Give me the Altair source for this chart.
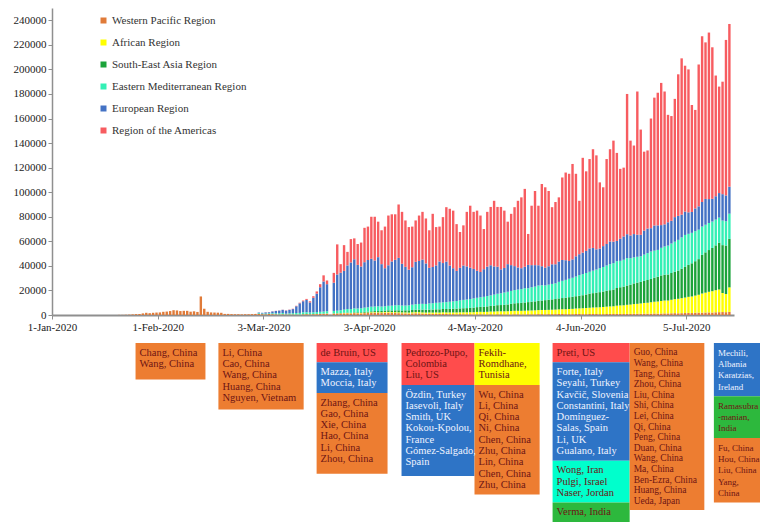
import altair as alt
import pandas as pd

# ---------------- data (daily new cases, thousands) ----------------
REGIONS = ["Western Pacific Region", "African Region", "South-East Asia Region",
           "Eastern Mediterranean Region", "European Region", "Region of the Americas"]
BAR_COLORS = ["#E07B39", "#FFFF00", "#1BA33A", "#33F0B5", "#4472C4", "#F75C60"]
BOX_COLORS = ["#ED7D31", "#FFFF00", "#2DB83D", "#00FFCC", "#2E74C6", "#FF4C4C"]

western_pacific_start = "2020-01-20"
western_pacific = [
    0.1, 0.1, 0.2, 0.3, 0.5, 0.7, 0.8, 1.3, 1.8, 1.5, 1.8, 2.0,
    2.1, 2.6, 2.8, 3.2, 3.9, 3.7, 3.2, 3.4, 3.4, 2.7, 3.0, 2.5, 15.1, 5.1, 2.6, 2.1, 2.0, 1.9,
    1.8, 0.9, 0.9, 0.7, 0.6, 0.6, 0.5, 0.6, 0.6, 0.7, 0.9,
    0.9, 0.7, 0.6, 0.8, 0.7, 0.6, 0.5, 0.6, 0.5, 0.5, 0.5, 0.4, 0.4, 0.5, 0.6, 0.5, 0.6, 0.7,
    0.8, 0.9, 1.0, 0.2, 1.0, 1.1, 1.2, 1.3, 1.4, 1.2, 1.5, 1.4, 1.3,
    1.5, 1.6, 1.7, 1.8, 1.7, 1.6, 1.8, 1.9, 1.7, 1.6, 1.5, 1.4, 1.3, 1.2, 1.3, 1.4, 1.3, 1.1,
    1.0, 1.0, 0.9, 0.9, 0.8, 0.9, 0.8, 0.7, 0.7, 0.6, 0.7, 0.6,
    0.6, 0.6, 0.5, 0.6, 0.6, 0.5, 0.5, 0.6, 0.5, 0.6, 0.6, 0.5, 0.5, 0.5, 0.6, 0.6, 0.5, 0.5,
    0.6, 0.6, 0.6, 0.7, 0.7, 0.6, 0.7, 0.7, 0.7, 0.8, 0.8, 0.7,
    0.7, 0.7, 0.8, 0.8, 0.7, 0.7, 0.8, 0.8, 0.8, 0.7, 0.7, 0.8, 0.9, 0.8, 0.9, 0.9, 0.8, 0.9,
    0.9, 1.0, 1.0, 1.0, 1.1, 1.0, 1.1, 1.2, 1.1, 1.2, 1.3,
    1.3, 1.4, 1.5, 1.4, 1.5, 1.6, 1.7, 1.6, 1.8, 1.9, 1.9, 2.0, 2.1, 2.0, 2.2, 2.3, 2.4, 2.3, 2.5,
]

series_start = "2020-03-01"
african = [
    0, 0, 0, 0, 0, 0, 0, 0, 0, 0, 0, 0, 0, 0.1, 0.1, 0.1, 0.1, 0.1, 0.1, 0.1, 0.2, 0, 0.2, 0.2,
    0.2, 0.3, 0.3, 0.3, 0.3, 0.3, 0.4,
    0.4, 0.4, 0.5, 0.5, 0.5, 0.6, 0.6, 0.6, 0.6, 0.7, 0.7, 0.7, 0.8, 0.8, 0.9, 0.9, 1.0, 1.0,
    1.0, 1.1, 1.1, 1.2, 1.2, 1.3, 1.3, 1.4, 1.4, 1.5, 1.5, 1.6,
    1.6, 1.7, 1.8, 1.9, 2.0, 2.0, 2.1, 2.2, 2.3, 2.4, 2.4, 2.5, 2.6, 2.7, 2.8, 2.8, 2.9, 3.0,
    3.0, 3.1, 3.2, 3.3, 3.4, 3.5, 3.5, 3.6, 3.7, 3.8, 3.9, 4.0,
    4.2, 4.3, 4.5, 4.6, 4.8, 5.0, 5.1, 5.3, 5.4, 5.6, 5.8, 6.0, 6.1, 6.3, 6.7, 6.9, 7.1, 7.4,
    7.6, 7.9, 8.1, 8.4, 8.7, 9.0, 9.3, 9.6, 9.9, 10.2, 10.5,
    10.5, 11.0, 11.4, 11.8, 12.2, 12.6, 13.1, 13.5, 14.0, 14.6, 15.6, 16.2, 16.8, 17.4, 18.0,
    18.5, 15.5, 14.8, 20.0,
]
south_east_asia = [
    0, 0, 0, 0, 0, 0, 0, 0, 0, 0, 0, 0, 0, 0.1, 0.1, 0.1, 0.1, 0.1, 0.1, 0.1, 0.1, 0, 0.2, 0.2,
    0.2, 0.3, 0.3, 0.3, 0.4, 0.5, 0.5,
    0.6, 0.7, 0.8, 0.9, 1.0, 1.1, 1.2, 1.3, 1.4, 1.5, 1.6, 1.6, 1.7, 1.8, 1.9, 2.0, 2.1, 2.2,
    2.3, 2.3, 2.4, 2.5, 2.6, 2.7, 2.8, 2.9, 3.0, 3.1, 3.2, 3.3,
    3.4, 3.5, 3.7, 3.9, 4.0, 4.2, 4.4, 4.6, 4.8, 5.0, 5.1, 5.3, 5.5, 5.9, 6.1, 6.3, 6.5, 6.7,
    6.9, 7.1, 7.3, 7.5, 7.7, 8.0, 8.2, 8.4, 8.6, 8.9, 9.1, 9.4,
    9.6, 9.8, 10.0, 10.3, 10.6, 11.0, 11.5, 11.7, 12.0, 12.3, 12.6, 12.9, 13.2, 13.6, 14.4,
    14.8, 15.2, 15.7, 16.2, 16.8, 17.3, 17.6, 18.0, 18.5, 19.0, 19.6, 20.2, 20.8, 21.0,
    21.2, 21.8, 22.4, 23.0, 24.0, 25.0, 26.0, 27.0, 28.0, 29.0, 31.5, 32.8, 34.0, 35.2, 36.5,
    38.0, 39.0, 39.5, 39.5,
]
eastern_mediterranean = [
    0.6, 0.5, 0.6, 0.6, 0.7, 0.8, 0.9, 1.0, 0.6, 0.9, 1.0, 1.2, 1.3, 1.5, 1.5, 1.3, 1.4, 1.5,
    1.6, 1.7, 1.8, 0, 1.9, 2.0, 2.3, 2.5, 2.9, 3.0, 3.2, 3.1, 3.3,
    3.5, 3.6, 3.8, 3.7, 3.9, 3.6, 3.5, 3.7, 3.9, 4.1, 4.2, 4.0, 3.9, 4.1, 4.3, 4.5, 4.6, 4.8,
    4.7, 5.0, 5.2, 5.3, 5.5, 5.4, 5.6, 5.8, 6.0, 6.2, 6.5, 6.8,
    7.0, 7.2, 7.5, 7.6, 7.9, 8.1, 8.4, 8.6, 9.0, 9.3, 9.6, 10.0, 10.3, 10.5, 10.8, 11.0, 11.2,
    11.6, 11.3, 11.8, 12.0, 12.5, 12.4, 12.0, 12.3, 12.6, 12.8, 13.5, 14.0, 14.5,
    15.0, 15.5, 16.0, 16.8, 17.2, 17.5, 17.8, 18.3, 18.8, 19.5, 20.0, 20.6, 21.2, 21.5, 21.8,
    21.5, 21.9, 22.3, 21.6, 21.2, 21.0, 20.8, 21.4, 21.9, 22.3, 22.0, 21.8, 22.5, 23.0,
    23.5, 24.0, 24.4, 25.0, 25.5, 26.0, 25.3, 24.8, 24.5, 24.0, 23.0, 22.5, 22.0, 21.5, 21.0,
    20.5, 20.0, 19.8, 20.5,
]
european = [
    0.5, 0.6, 0.9, 0.8, 1.5, 1.9, 2.2, 2.6, 2.5, 2.8, 3.3, 5.5, 7.8, 9.0, 10.0, 8.2, 11.8, 15.0,
    20.0, 24.5, 22.0, 0, 23.0, 29.5, 30.5, 31.5, 35.5, 38.0, 40.0, 35.5, 34.0,
    37.0, 38.5, 39.0, 37.5, 40.0, 34.5, 31.0, 33.0, 36.0, 37.0, 38.5, 34.0, 31.5, 29.0, 30.5,
    34.5, 35.0, 36.0, 33.0, 29.0, 29.5, 30.5, 33.5, 32.0, 33.0, 29.5, 27.0, 24.5, 26.5, 28.0,
    27.0, 25.5, 24.0, 22.0, 20.5, 22.5, 24.0, 24.5, 23.0, 22.0, 19.5, 20.0, 22.5, 21.0, 19.5,
    18.0, 17.0, 17.5, 19.0, 18.0, 17.5, 16.5, 15.5, 14.5, 15.0, 16.0, 15.5, 16.5, 17.0, 16.0,
    14.5, 15.0, 16.5, 17.0, 17.5, 18.0, 19.0, 18.5, 16.5, 16.0, 17.0, 17.5, 18.5, 17.5, 16.5,
    18.0, 19.0, 19.5, 18.5, 19.0, 18.0, 17.5, 19.5, 20.0, 19.0, 20.5, 20.0, 18.5, 18.0,
    19.0, 18.5, 20.0, 19.5, 18.5, 19.0, 17.5, 17.0, 18.5, 19.0, 20.0, 21.0, 19.5, 18.5, 19.0,
    20.0, 21.5, 21.0, 22.0,
]
americas = [
    0, 0, 0.1, 0.1, 0.1, 0.1, 0.1, 0.1, 0.2, 0.2, 0.3, 0.4, 0.5, 0.6, 0.8, 1.0, 1.3, 1.8, 2.5,
    5.0, 3.0, 0, 8.0, 24.5, 7.0, 21.0, 11.0, 19.0, 17.0, 17.0, 19.5,
    28.0, 27.2, 34.2, 35.6, 28.9, 27.6, 33.9, 40.5, 38.4, 37.1, 43.5, 42.3, 37.8, 34.7, 33.1,
    33.7, 37.0, 38.9, 36.6, 30.6, 43.3, 31.2, 28.4, 37.4, 44.3, 46.2, 46.9, 38.1, 29.2, 32.7,
    44.4, 50.5, 46.5, 49.0, 46.0, 32.7, 44.6, 47.5, 53.4, 48.7, 50.8, 46.7, 34.6, 41.8, 48.0,
    54.3, 57.7, 63.4, 25.2, 48.4, 60.4, 48.5, 67.0, 65.4, 61.3, 46.5, 50.7, 52.3, 67.2, 71.4,
    71.0, 77.7, 67.2, 43.5, 77.2, 64.8, 72.8, 80.4, 76.5, 53.9, 47.9, 69.2, 75.1, 82.3, 71.7,
    56.9, 56.0, 114.2, 77.2, 72.1, 116.6, 85.7, 64.3, 63.6, 89.3, 104.1, 108.0, 115.8, 108.2,
    87.5, 85.3, 96.3, 115.3, 127.3, 118.8, 116.4, 87.1, 80.2, 115.5, 135.0, 127.5, 135.6,
    123.4, 98.3, 86.7, 91.6, 126.6, 132.5,
]

x_tick_dates = [(1, 1), (2, 1), (3, 3), (4, 3), (5, 4), (6, 4), (7, 5)]
y_ticks = list(range(0, 240001, 20000))

# annotation columns: (start day, end day, line height, font size, extra bottom pad, segments)
annotations = [
    (24.5, 45.0, 11.3, 10.5, 6, [("Western Pacific Region", ["Chang, China", "Wang, China"])]),
    (48.8, 73.8, 11.3, 10.5, 2, [("Western Pacific Region", ["Li, China", "Cao, China", "Wang, China",
                                                             "Huang, China", "Nguyen, Vietnam"])]),
    (77.6, 98.4, 11.3, 10.5, 5, [("Region of the Americas", ["de Bruin, US"]),
                                 ("European Region", ["Mazza, Italy", "Moccia, Italy"]),
                                 ("Western Pacific Region", ["Zhang, China", "Gao, China", "Xie, China",
                                                             "Hao, China", "Li, China", "Zhou, China"])]),
    (102.5, 123.9, 11.3, 10.5, 4, [("Region of the Americas", ["Pedrozo-Pupo,", "Colombia", "Liu, US"]),
                                   ("European Region", ["Özdin, Turkey", "Iasevoli, Italy", "Smith, UK",
                                                        "Kokou-Kpolou,", "France", "Gómez-Salgado,",
                                                        "Spain"])]),
    (123.9, 143.0, 11.3, 10.5, 0, [("African Region", ["Fekih-", "Romdhane,", "Tunisia"]),
                                   ("Western Pacific Region", ["Wu, China", "Li, China", "Qi, China",
                                                               "Ni, China", "Chen, China", "Zhu, China",
                                                               "Lin, China", "Chen, China", "Zhu, China"])]),
    (146.8, 169.4, 11.3, 10.5, 0, [("Region of the Americas", ["Preti, US"]),
                                   ("European Region", ["Forte, Italy", "Seyahi, Turkey", "Kavčič, Slovenia",
                                                        "Constantini, Italy", "Domínguez-", "Salas, Spain",
                                                        "Li, UK", "Gualano, Italy"]),
                                   ("Eastern Mediterranean Region", ["Wong, Iran", "Pulgi, Israel",
                                                                     "Naser, Jordan"]),
                                   ("South-East Asia Region", ["Verma, India"])]),
    (169.4, 191.3, 10.6, 9.5, 0, [("Western Pacific Region", ["Guo, China", "Wang, China", "Tang, China",
                                                              "Zhou, China", "Liu, China", "Shi, China",
                                                              "Lei, China", "Qi, China", "Peng, China",
                                                              "Duan, China", "Wang, China", "Ma, China",
                                                              "Ben-Ezra, China", "Huang, China",
                                                              "Ueda, Japan"])]),
    (194.1, 214.0, 11.3, 9.0, 0, [("European Region", ["Mechili,", "Albania", "Karatzias,", "Ireland"]),
                                  ("South-East Asia Region", ["Ramasubra", "-manian,", "India"]),
                                  ("Western Pacific Region", ["Fu, China", "Hou, China", "Liu, China",
                                                              "Yang,", "China"])]),
]

# ---------------- tables ----------------
rows = []
series = [(REGIONS[0], western_pacific_start, western_pacific),
          (REGIONS[1], series_start, african),
          (REGIONS[2], series_start, south_east_asia),
          (REGIONS[3], series_start, eastern_mediterranean),
          (REGIONS[4], series_start, european),
          (REGIONS[5], series_start, americas)]
for rank, (name, start, vals) in enumerate(series):
    for d, v in zip(pd.date_range(start, periods=len(vals), freq="D"), vals):
        rows.append({"date": d.strftime("%Y-%m-%d"), "region": name, "rank": rank,
                     "cases": round(v * 1000)})
df = pd.DataFrame(rows)

PAD = 8
box_rows, text_rows = [], []
for x0, x1, lh, fs, extra, segs in annotations:
    top = 0.0
    for si, (region, lines) in enumerate(segs):
        h = len(lines) * lh + PAD + (extra if si == len(segs) - 1 else 0)
        box_rows.append({"x0": x0, "x1": x1, "y0": top, "y1": top + h, "region": region})
        tcol = "#EEF3FF" if region == "European Region" else "#6E1414"
        for k, line in enumerate(lines):
            text_rows.append({"x": x0, "y": top + PAD / 2 + lh * (k + 0.5), "text": line,
                              "tcolor": tcol, "fs": fs})
        top += h
boxes_df = pd.DataFrame(box_rows)
texts_df = pd.DataFrame(text_rows)

SERIF = "Liberation Serif"
PLOT_W, PLOT_H = 682, 307
PANEL_W, PANEL_H = 708, 181
PANEL_DAYS = PANEL_W / 3.41

def dt(m, d):
    return alt.DateTime(year=2020, month=m, date=d, utc=True)

bars = alt.Chart(df).mark_bar().encode(
    x=alt.X("utcyearmonthdate(date):T",
            scale=alt.Scale(type="utc", domain=[dt(1, 1), dt(7, 19)]),
            axis=alt.Axis(values=[dt(m, d) for m, d in x_tick_dates], format="%-d-%b-%Y",
                          title=None, grid=False, labelFont=SERIF, labelFontSize=11,
                          labelColor="#222", domainColor="#8f8f8f", domainWidth=2,
                          tickColor="#8f8f8f", tickSize=4, labelPadding=2,
                          labelOverlap=False, labelFlush=False)),
    y=alt.Y("cases:Q", stack="zero",
            scale=alt.Scale(domain=[0, 250000], nice=False),
            axis=alt.Axis(values=y_ticks, format="d", title=None, grid=False,
                          labelFont=SERIF, labelFontSize=11, labelColor="#222",
                          domainColor="#8f8f8f", domainWidth=1.5, tickColor="#8f8f8f",
                          tickSize=4, labelPadding=2)),
    color=alt.Color("region:N", scale=alt.Scale(domain=REGIONS, range=BAR_COLORS),
                    legend=alt.Legend(title=None, orient="none", legendX=46, legendY=7,
                                      symbolType="square", symbolSize=36,
                                      symbolStrokeWidth=0, labelFont=SERIF,
                                      labelFontSize=11, labelColor="#333",
                                      rowPadding=10, labelOffset=3)),
    order=alt.Order("rank:Q", sort="ascending"),
).properties(width=PLOT_W, height=PLOT_H)

rects = alt.Chart(boxes_df).mark_rect(clip=True).encode(
    x=alt.X("x0:Q", scale=alt.Scale(domain=[0, PANEL_DAYS], nice=False, zero=False), axis=None),
    x2="x1:Q",
    y=alt.Y("y0:Q", scale=alt.Scale(domain=[0, PANEL_H], reverse=True, nice=False), axis=None),
    y2="y1:Q",
    color=alt.Color("region:N", scale=alt.Scale(domain=REGIONS, range=BOX_COLORS), legend=None),
)
texts = alt.Chart(texts_df).mark_text(align="left", baseline="middle", dx=4, font=SERIF,
                                      clip=True).encode(
    x=alt.X("x:Q", scale=alt.Scale(domain=[0, PANEL_DAYS], nice=False, zero=False), axis=None),
    y=alt.Y("y:Q", scale=alt.Scale(domain=[0, PANEL_H], reverse=True, nice=False), axis=None),
    text="text:N",
    color=alt.Color("tcolor:N", scale=None),
    size=alt.Size("fs:Q", scale=None),
)
panel = alt.layer(rects, texts).properties(width=PANEL_W, height=PANEL_H)

chart = alt.vconcat(bars, panel, spacing=11).resolve_scale(
    x="independent", y="independent", color="independent"
).configure_view(stroke=None).properties(
    padding={"left": 5, "top": 0, "right": 0, "bottom": 0}, background="white"
)

chart.save("out.html", embed_options={"renderer": "svg", "actions": False})
